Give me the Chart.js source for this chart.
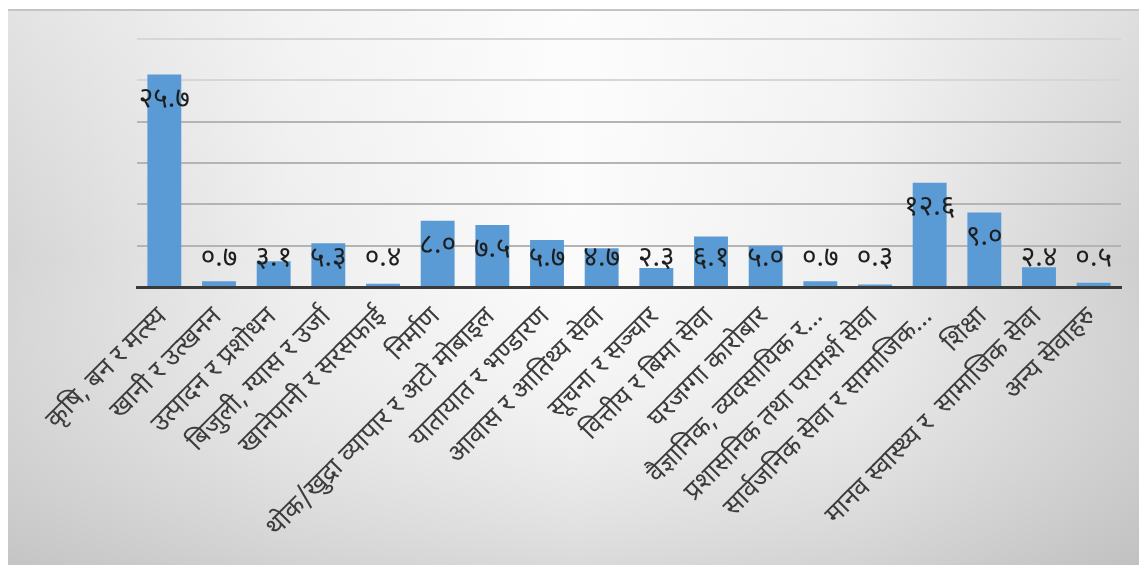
<!DOCTYPE html>
<html>
<head>
<meta charset="utf-8">
<script src="https://cdn.jsdelivr.net/npm/chart.js@4.4.1/dist/chart.umd.min.js"></script>
<style>
  html, body { margin: 0; padding: 0; background: #ffffff; }
  #wrap { position: relative; width: 1139px; height: 565px; }
</style>
</head>
<body>
<div id="wrap"><canvas id="c" width="1139" height="565"></canvas></div>
<script>
const categories = [
  "कृषि, बन र मत्स्य",
  "खानी र उत्खनन",
  "उत्पादन र प्रशोधन",
  "बिजुली, ग्यास र उर्जा",
  "खानेपानी र सरसफाई",
  "निर्माण",
  "थोक/खुद्रा व्यापार र अटो मोबाइल",
  "यातायात र भण्डारण",
  "आवास र आतिथ्य सेवा",
  "सूचना र सञ्चार",
  "वित्तीय र बिमा सेवा",
  "घरजग्गा कारोबार",
  "वैज्ञानिक, व्यवसायिक र...",
  "प्रशासनिक तथा परामर्श सेवा",
  "सार्वजनिक सेवा र सामाजिक...",
  "शिक्षा",
  "मानव स्वास्थ्य र  सामाजिक सेवा",
  "अन्य सेवाहरु"
];
const values = [25.7, 0.7, 3.1, 5.3, 0.4, 8.0, 7.5, 5.7, 4.7, 2.3, 6.1, 5.0, 0.7, 0.3, 12.6, 9.0, 2.4, 0.5];
const yTicks = [0, 5, 10, 15, 20, 25, 30];

const devDigits = ["०","१","२","३","४","५","६","७","८","९"];
function toDev(v) {
  return v.toFixed(1).replace(/[0-9]/g, d => devDigits[+d]);
}

const FONT = '"Noto Sans Devanagari", "Lohit Devanagari", "Mangal", "Noto Sans", sans-serif';

const bgPlugin = {
  id: 'bg',
  beforeDraw(chart) {
    const ctx = chart.ctx;
    const W = chart.width, H = chart.height;
    ctx.save();
    ctx.fillStyle = '#ffffff';
    ctx.fillRect(0, 0, W, H);
    const g = ctx.createLinearGradient(8, 0, W, 0);
    g.addColorStop(0, '#d0d0d0');
    g.addColorStop(0.25, '#ececec');
    g.addColorStop(0.5, '#fbfbfb');
    g.addColorStop(0.75, '#ededed');
    g.addColorStop(1, '#c9c9c9');
    ctx.fillStyle = g;
    ctx.fillRect(8, 10, W - 8, H - 10);
    const v = ctx.createLinearGradient(0, 10, 0, H);
    v.addColorStop(0, 'rgba(255,255,255,0.4)');
    v.addColorStop(0.45, 'rgba(255,255,255,0.1)');
    v.addColorStop(1, 'rgba(185,185,185,0.5)');
    ctx.fillStyle = v;
    ctx.fillRect(8, 10, W - 8, H - 10);
    ctx.strokeStyle = '#c4c4c4';
    ctx.lineWidth = 2;
    ctx.beginPath();
    ctx.moveTo(8, 10);
    ctx.lineTo(W, 10);
    ctx.stroke();
    ctx.restore();
  }
};

const labelPlugin = {
  id: 'vlabels',
  afterDatasetsDraw(chart) {
    const ctx = chart.ctx;
    const meta = chart.getDatasetMeta(0);
    const base = chart.scales.y.getPixelForValue(0);
    ctx.save();
    ctx.font = '28px ' + FONT;
    ctx.fillStyle = '#1e1e1e';
    ctx.textAlign = 'center';
    ctx.textBaseline = 'middle';
    meta.data.forEach((bar, i) => {
      const y = Math.min(bar.y + 27, base - 26);
      ctx.fillText(toDev(values[i]), bar.x, y);
    });
    ctx.restore();
  }
};

new Chart(document.getElementById('c'), {
  type: 'bar',
  data: {
    labels: categories,
    datasets: [{
      data: values,
      backgroundColor: '#5b9bd5',
      borderWidth: 0,
      barPercentage: 0.62,
      categoryPercentage: 1.0
    }]
  },
  options: {
    responsive: false,
    animation: false,
    devicePixelRatio: 1,
    layout: { padding: { left: 137, right: 18, top: 39, bottom: 0 } },
    plugins: {
      legend: { display: false },
      tooltip: { enabled: false },
      title: { display: false }
    },
    scales: {
      x: {
        grid: { display: false },
        border: { display: true, color: '#3a3a3a', width: 3 },
        ticks: {
          autoSkip: false,
          minRotation: 45,
          maxRotation: 45,
          padding: 8,
          color: '#3c3c3c',
          font: { family: FONT, size: 26 }
        },
        afterFit(s) { s.height = 565 - 287; }
      },
      y: {
        min: 0,
        max: 30,
        afterBuildTicks(s) { s.ticks = yTicks.map(v => ({ value: v })); },
        ticks: { display: false },
        border: { display: false },
        grid: {
          drawTicks: false,
          lineWidth: 2,
          color: ctx => (ctx.tick && ctx.tick.value >= 25) ? '#d6d6d6' : '#b4b4b4'
        },
        afterFit(s) { s.width = 0; }
      }
    }
  },
  plugins: [bgPlugin, labelPlugin]
});
</script>
</body>
</html>
